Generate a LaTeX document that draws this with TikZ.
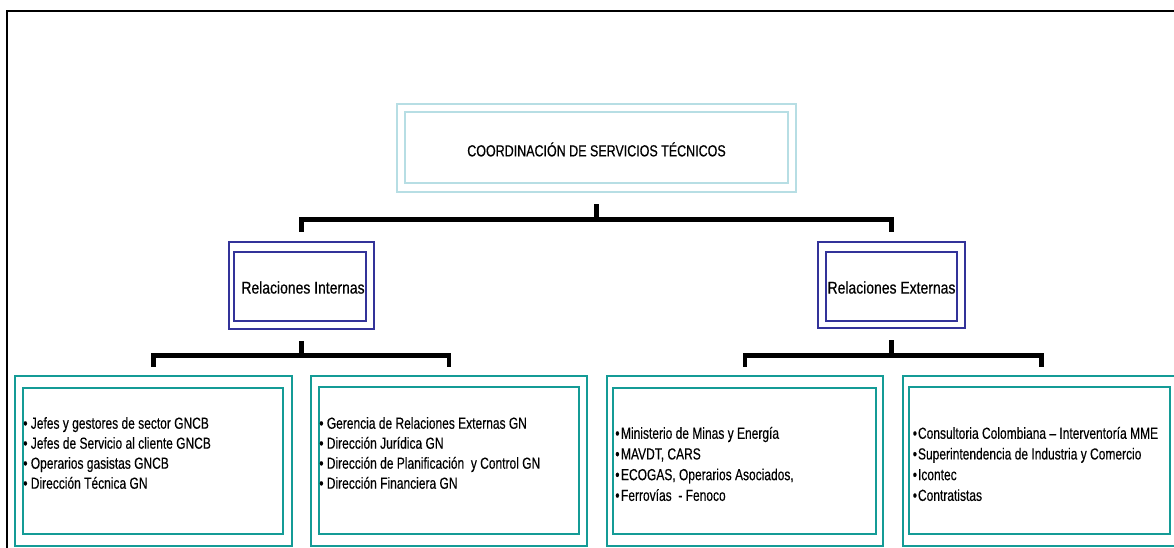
\documentclass[tikz,border=0pt]{standalone}
\usepackage{fontspec}
\setmainfont{Liberation Sans}
\newfontfamily\titlefont[FakeStretch=0.78, FakeBold=0.5]{Liberation Sans}
\newfontfamily\headfont[FakeStretch=0.82, FakeBold=0.5]{Liberation Sans}
\newfontfamily\itemfont[FakeStretch=0.75, FakeBold=0.3]{Liberation Sans}
\usetikzlibrary{calc}

\definecolor{topcyan}{RGB}{183,222,228}
\definecolor{unitnavy}{RGB}{51,51,153}
\definecolor{itemteal}{RGB}{20,155,150}

\tikzset{
  boxbase/.style={draw, rectangle, inner sep=0pt, fill=none},
  topbox/.style={boxbase, draw=topcyan, line width=2.6pt},
  unitbox/.style={boxbase, draw=unitnavy, line width=2.6pt},
  itembox/.style={boxbase, draw=itemteal, line width=2.8pt},
  conn/.style={draw=black, line width=4.8pt, line join=miter},
  titletext/.style={inner sep=0pt, font=\titlefont\fontsize{16}{19}\selectfont},
  unittext/.style={inner sep=0pt, font=\headfont\fontsize{17}{20}\selectfont},
  itemtext/.style={inner sep=0pt, anchor=west, align=left,
    font=\itemfont\fontsize{16}{20}\selectfont},
  itemtextwide/.style={itemtext, font=\itemfont\fontsize{16}{20.7}\selectfont},
}

\begin{document}
\begin{tikzpicture}[x=1pt, y=-1pt]
  \useasboundingbox (0,0) rectangle (1174,548);
  \clip (0,0) rectangle (1174,548);
  \fill[white] (0,0) rectangle (1174,548);

  % page frame (runs past the right and bottom edges)
  \draw[line width=2.2pt, black] (7,11) rectangle (1190,570);

  % top level
  \node[topbox, minimum width=399pt, minimum height=88pt] (top) at (596.5,148) {};
  \node[topbox, minimum width=383pt, minimum height=71pt] (topin) at (596.5,147.5) {};
  \node[titletext] (toplabel) at ([yshift=-2pt]topin.center) {COORDINACIÓN DE SERVICIOS TÉCNICOS};

  % second level
  \node[unitbox, minimum width=145pt, minimum height=87pt] (ri) at (301.5,285.5) {};
  \node[unitbox, minimum width=132pt, minimum height=69pt] (riin) at (300,286.5) {};
  \node[unittext] (rilabel) at (303,287.5) {Relaciones Internas};

  \node[unitbox, minimum width=147pt, minimum height=86pt] (re) at (891.5,285) {};
  \node[unitbox, minimum width=131pt, minimum height=69pt] (rein) at (891.5,286.5) {};
  \node[unittext] (relabel) at ([yshift=-1pt]rein.center) {Relaciones Externas};

  % third level
  \node[itembox, minimum width=277pt, minimum height=170pt] (b1) at (153.5,461) {};
  \node[itembox, minimum width=260pt, minimum height=146pt] (b1in) at (153,461) {};
  \node[itembox, minimum width=276pt, minimum height=170pt] (b2) at (449,461) {};
  \node[itembox, minimum width=260pt, minimum height=147pt] (b2in) at (449,460.5) {};
  \node[itembox, minimum width=276pt, minimum height=170pt] (b3) at (745,461) {};
  \node[itembox, minimum width=263pt, minimum height=146pt] (b3in) at (744.5,461) {};
  \node[itembox, minimum width=277pt, minimum height=170pt] (b4) at (1041.5,461) {};
  \node[itembox, minimum width=261pt, minimum height=147pt] (b4in) at (1039.5,460.5) {};

  \node[itemtext] (b1text) at ([xshift=1.5pt]b1in.west |- 0,453) {%
    • Jefes y gestores de sector GNCB\\
    • Jefes de Servicio al cliente GNCB\\
    • Operarios gasistas GNCB\\
    • Dirección Técnica GN};
  \node[itemtext] (b2text) at ([xshift=1.5pt]b2in.west |- 0,453) {%
    • Gerencia de Relaciones Externas GN\\
    • Dirección Jurídica GN\\
    • Dirección de Planificación \ y Control GN\\
    • Dirección Financiera GN};
  \node[itemtextwide] (b3text) at ([xshift=3.5pt]b3in.west |- 0,464) {%
    •\hspace{1.5pt}Ministerio de Minas y Energía\\
    •\hspace{1.5pt}MAVDT, CARS\\
    •\hspace{1.5pt}ECOGAS, Operarios Asociados,\\
    •\hspace{1.5pt}Ferrovías \ - Fenoco};
  \node[itemtextwide] (b4text) at ([xshift=5pt]b4in.west |- 0,464) {%
    •\hspace{1pt}Consultoria Colombiana – Interventoría MME\\
    •\hspace{1pt}Superintendencia de Industria y Comercio\\
    •\hspace{1pt}Icontec\\
    •\hspace{1pt}Contratistas};

  % connectors: top to second level
  \coordinate (busA) at (top.south |- 0,219.5);
  \draw[conn] ([yshift=-11pt]top.south) -- (busA);
  \draw[conn] ([yshift=9pt]ri.north) |- (busA) -| ([yshift=9pt]re.north);

  % connectors: second level to items
  \coordinate (busB) at (ri.south |- 0,355.5);
  \draw[conn] ([yshift=-11pt]ri.south) -- (busB);
  \draw[conn] ([yshift=8pt]b1.north) |- (busB) -| ([yshift=8pt]b2.north);

  \coordinate (busC) at (re.south |- 0,355.5);
  \draw[conn] ([yshift=-11pt]re.south) -- (busC);
  \draw[conn] ([yshift=8pt]b3.north) |- (busC) -| ([yshift=8pt]b4.north);
\end{tikzpicture}
\end{document}
